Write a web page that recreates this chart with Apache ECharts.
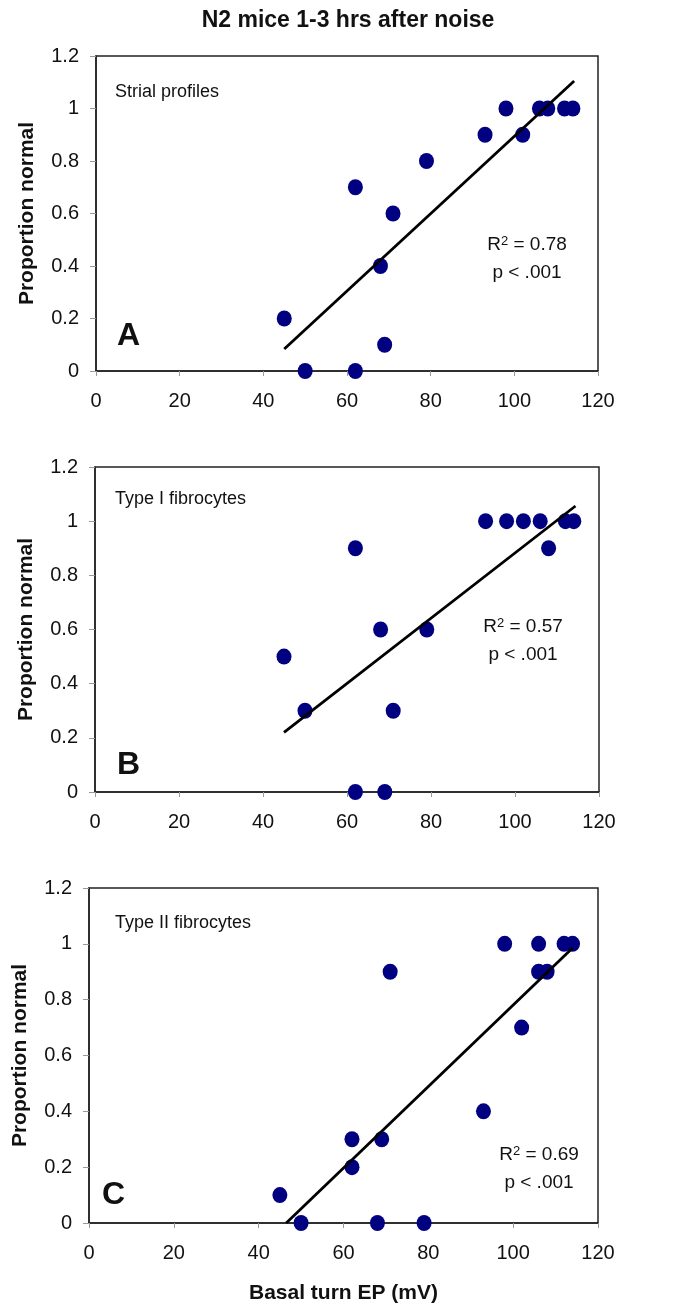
<!DOCTYPE html>
<html>
<head>
<meta charset="utf-8">
<script src="https://cdn.jsdelivr.net/npm/echarts@6/dist/echarts.min.js"></script>
<style>
html, body { margin: 0; padding: 0; background: #fff; }
#chart { width: 696px; height: 1308px; }
</style>
</head>
<body>
<div id="chart"></div>
<script>
// Basal turn EP (mV) vs proportion normal, one array per panel
var xA = [45, 50, 62, 62, 68, 69, 71, 79, 93, 98, 102, 106, 108, 112, 114];
var yA = [0.2, 0, 0.7, 0, 0.4, 0.1, 0.6, 0.8, 0.9, 1, 0.9, 1, 1, 1, 1];
var fitA = [[45, 0.084], [114.3, 1.105]];

var xB = [45, 50, 62, 62, 68, 69, 71, 79, 93, 98, 102, 106, 108, 112, 114];
var yB = [0.5, 0.3, 0.9, 0, 0.6, 0, 0.3, 0.6, 1, 1, 1, 1, 0.9, 1, 1];
var fitB = [[45, 0.22], [114.4, 1.056]];

var xC = [45, 50, 62, 62, 68, 69, 71, 79, 93, 98, 102, 106, 106, 108, 112, 114];
var yC = [0.1, 0, 0.3, 0.2, 0, 0.3, 0.9, 0, 0.4, 1, 0.7, 1, 0.9, 0.9, 1, 1];
var fitC = [[46.5, 0], [114, 0.985]];

var panelNames = ['Strial profiles', 'Type I fibrocytes', 'Type II fibrocytes'];
var panelLetters = ['A', 'B', 'C'];
var r2Labels = ['0.78', '0.57', '0.69'];

var FONT = 'Liberation Sans, Arial, sans-serif';

function pairs(xs, ys) {
	var out = [];
	for (var i = 0; i < xs.length; i++) out.push([xs[i], ys[i]]);
	return out;
}

var grids = [
	{ left: 96, top: 56, width: 502, height: 315 },
	{ left: 95, top: 467, width: 504, height: 325 },
	{ left: 89, top: 888, width: 509, height: 335 }
];

var xAxes = [], yAxes = [], series = [];
var scatterData = [pairs(xA, yA), pairs(xB, yB), pairs(xC, yC)];
var fits = [fitA, fitB, fitC];

grids.forEach(function(g, i) {
	g.show = true;
	g.borderColor = '#222';
	g.borderWidth = 1.5;
	g.backgroundColor = '#fff';
	xAxes.push({
		type: 'value',
		gridIndex: i,
		min: 0,
		max: 120,
		interval: 20,
		name: i === 2 ? 'Basal turn EP (mV)' : '',
		nameLocation: 'middle',
		nameGap: 60,
		nameTextStyle: { fontFamily: FONT, fontSize: 21, fontWeight: 'bold', color: '#111' },
		axisLine: { show: true, lineStyle: { color: '#222', width: 1.5 } },
		axisTick: { show: true, length: 5, lineStyle: { color: '#999' } },
		axisLabel: { fontFamily: FONT, fontSize: 20, color: '#111', margin: 20 },
		splitLine: { show: false }
	});
	yAxes.push({
		type: 'value',
		gridIndex: i,
		min: 0,
		max: 1.2,
		interval: 0.2,
		name: 'Proportion normal',
		nameLocation: 'middle',
		nameGap: 58,
		nameTextStyle: { fontFamily: FONT, fontSize: 21, fontWeight: 'bold', color: '#111' },
		axisLine: { show: true, lineStyle: { color: '#222', width: 1.5 } },
		axisTick: { show: true, length: 6, lineStyle: { color: '#999' } },
		axisLabel: { fontFamily: FONT, fontSize: 20, color: '#111', margin: 17 },
		splitLine: { show: false }
	});
	series.push({
		type: 'scatter',
		xAxisIndex: i,
		yAxisIndex: i,
		symbol: 'circle',
		symbolSize: [15, 16],
		itemStyle: { color: '#000080', opacity: 1 },
		data: scatterData[i],
		clip: false,
		z: 3
	});
	series.push({
		type: 'line',
		xAxisIndex: i,
		yAxisIndex: i,
		showSymbol: false,
		symbol: 'none',
		lineStyle: { color: '#000', width: 2.8 },
		data: fits[i],
		z: 4
	});
});

// annotation positions (pixels)
var labelPos = [
	{ name: [115, 92], letter: [117, 336], r2: [527, 245], p: [527, 273] },
	{ name: [115, 499], letter: [117, 765], r2: [523, 627], p: [523, 655] },
	{ name: [115, 923], letter: [102, 1195], r2: [539, 1155], p: [539, 1183] }
];

var graphics = [];
labelPos.forEach(function(p, i) {
	graphics.push({
		type: 'text', x: p.name[0], y: p.name[1],
		style: { text: panelNames[i], font: '18px ' + FONT, fill: '#111', align: 'left', verticalAlign: 'middle' }
	});
	graphics.push({
		type: 'text', x: p.letter[0], y: p.letter[1],
		style: { text: panelLetters[i], font: 'bold 32px ' + FONT, fill: '#111', align: 'left', verticalAlign: 'middle' }
	});
	graphics.push({
		type: 'text', x: p.r2[0], y: p.r2[1],
		style: {
			text: '{a|R}{s|2}{a| = ' + r2Labels[i] + '}',
			align: 'center', verticalAlign: 'middle',
			rich: {
				a: { fontFamily: FONT, fontSize: 19, fill: '#111', color: '#111' },
				s: { fontFamily: FONT, fontSize: 13, fill: '#111', color: '#111', verticalAlign: 'top', padding: [0, 0, 8, 0] }
			}
		}
	});
	graphics.push({
		type: 'text', x: p.p[0], y: p.p[1],
		style: { text: 'p < .001', font: '19px ' + FONT, fill: '#111', align: 'center', verticalAlign: 'middle' }
	});
});

var myChart = echarts.init(document.getElementById('chart'), null, { renderer: 'canvas' });
myChart.setOption({
	animation: false,
	backgroundColor: '#fff',
	title: {
		text: 'N2 mice 1-3 hrs after noise',
		left: 'center',
		top: 4,
		textStyle: { fontFamily: FONT, fontSize: 23, fontWeight: 'bold', color: '#111' }
	},
	grid: grids,
	xAxis: xAxes,
	yAxis: yAxes,
	series: series,
	graphic: graphics
});
</script>
</body>
</html>
